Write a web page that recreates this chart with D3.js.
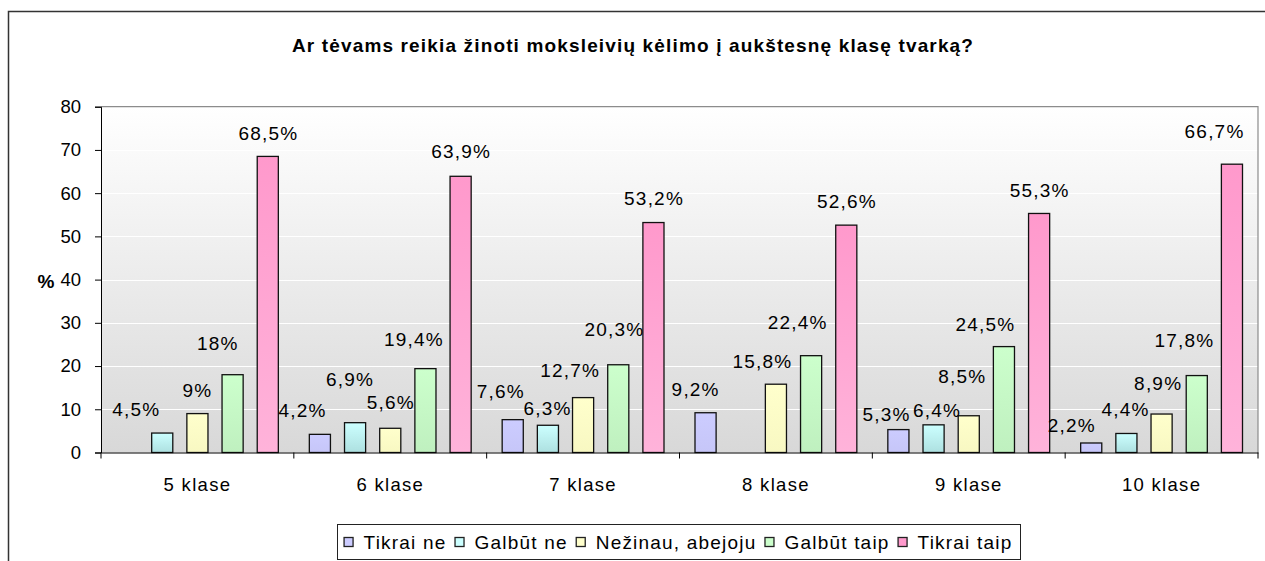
<!DOCTYPE html>
<html><head><meta charset="utf-8">
<script src="https://cdn.jsdelivr.net/npm/d3@7"></script>
<style>
html,body{margin:0;padding:0;background:#fff;}
svg{display:block;font-family:"Liberation Sans",Arial,sans-serif;}
</style></head>
<body>
<svg id="chart" width="1265" height="561"></svg>
<script>
// ---- data ----
const title = "Ar tėvams reikia žinoti moksleivių kėlimo į aukštesnę klasę tvarką?";
const categories = ["5 klase", "6 klase", "7 klase", "8 klase", "9 klase", "10 klase"];
const seriesNames = ["Tikrai ne", "Galbūt ne", "Nežinau, abejoju", "Galbūt taip", "Tikrai taip"];
const tikraiNe   = [null, 4.2, 7.6, 9.2, 5.3, 2.2];
const galbutNe   = [4.5, 6.9, 6.3, null, 6.4, 4.4];
const nezinau    = [9, 5.6, 12.7, 15.8, 8.5, 8.9];
const galbutTaip = [18, 19.4, 20.3, 22.4, 24.5, 17.8];
const tikraiTaip = [68.5, 63.9, 53.2, 52.6, 55.3, 66.7];
const yTicks = [0, 10, 20, 30, 40, 50, 60, 70, 80];

// ---- styling / layout ----
const seriesValues = [tikraiNe, galbutNe, nezinau, galbutTaip, tikraiTaip];
const seriesFill = [
  ["#ccccff", "#c6c6f8"],
  ["#ccffff", "#ade0e0"],
  ["#ffffcc", "#f8f8c2"],
  ["#ccffcc", "#bff0bf"],
  ["#ff99cc", "#ffb3da"]
];
// manual nudges of the value labels (label centre relative to bar top-centre)
const labelNudge = [
  [null, [-18,-24], [-12.5,-28], [-10.5,-24], [-12.5,-15], [-20,-18]],
  [[-26.5,-24], [-5.5,-43], [-1,-17], null, [3,-15], [-1.5,-24]],
  [[-0.5,-23], [0,-26], [-13.5,-27], [-14,-23], [-7,-40], [-4,-31]],
  [[-15.5,-31], [-12,-29], [-4.5,-36], [-14,-33], [-19,-22], [-13,-35]],
  [[0,-23], [0,-25], [0,-24], [0,-24], [0,-23], [-18,-33]]
];

const svg = d3.select("#chart");
const plot = {left: 101, right: 1258, top: 106.7, bottom: 452.5};

const defs = svg.append("defs");
const bg = defs.append("linearGradient").attr("id", "bgGrad")
  .attr("x1", 0).attr("y1", 0).attr("x2", 0).attr("y2", 1);
bg.append("stop").attr("offset", "0%").attr("stop-color", "#ffffff");
bg.append("stop").attr("offset", "100%").attr("stop-color", "#d8d8d8");
seriesFill.forEach((c, i) => {
  const g = defs.append("linearGradient").attr("id", "sg" + i)
    .attr("x1", 0).attr("y1", 0).attr("x2", 0).attr("y2", 1);
  g.append("stop").attr("offset", "0%").attr("stop-color", c[0]);
  g.append("stop").attr("offset", "100%").attr("stop-color", c[1]);
});

// outer frame
svg.append("rect").attr("x", 8.5).attr("y", 11.5).attr("width", 1300).attr("height", 600)
  .attr("fill", "#fff").attr("stroke", "#333").attr("stroke-width", 1.5);

// title
svg.append("text").attr("x", 633).attr("y", 52).attr("text-anchor", "middle")
  .attr("font-size", 19).attr("font-weight", "bold").attr("letter-spacing", 1.15)
  .attr("fill", "#000").text(title);

const x0 = d3.scaleBand().domain(categories).range([plot.left, plot.right]).padding(0);
const bw = x0.bandwidth();
const x1 = d3.scaleBand().domain(seriesNames).range([15.5, bw - 15.5]).paddingInner(0.4).paddingOuter(0);
const y = d3.scaleLinear().domain([0, 80]).range([plot.bottom, plot.top]);

// plot background
svg.append("rect").attr("x", plot.left).attr("y", plot.top)
  .attr("width", plot.right - plot.left).attr("height", plot.bottom - plot.top)
  .attr("fill", "url(#bgGrad)");
// gridlines
svg.append("g").selectAll("line").data(yTicks.filter(t => t > 0 && t < 80)).join("line")
  .attr("x1", plot.left).attr("x2", plot.right)
  .attr("y1", d => Math.round(y(d)) + 0.5).attr("y2", d => Math.round(y(d)) + 0.5)
  .attr("stroke", "#ffffff").attr("stroke-width", 1.2);
// plot border top/right
svg.append("path")
  .attr("d", `M${plot.left},${plot.top}H${plot.right}V${plot.bottom}`)
  .attr("fill", "none").attr("stroke", "#8c8c8c").attr("stroke-width", 1.2);

// bars
const groups = svg.append("g").selectAll("g").data(categories).join("g")
  .attr("transform", d => `translate(${x0(d)},0)`);
seriesNames.forEach((s, si) => {
  groups.each(function(cat, ci) {
    const v = seriesValues[si][ci];
    if (v == null) return;
    d3.select(this).append("rect")
      .attr("x", x1(s)).attr("y", y(v))
      .attr("width", x1.bandwidth()).attr("height", y(0) - y(v))
      .attr("fill", `url(#sg${si})`).attr("stroke", "#111").attr("stroke-width", 1.3);
  });
});

// value labels
const fmt = v => String(v).replace(".", ",") + "%";
seriesNames.forEach((s, si) => {
  groups.each(function(cat, ci) {
    const v = seriesValues[si][ci];
    if (v == null) return;
    const n = labelNudge[si][ci] || [0, -24];
    d3.select(this).append("text")
      .attr("x", x1(s) + x1.bandwidth() / 2 + n[0] + 0.6)
      .attr("y", y(v) + n[1] + 6.8)
      .attr("text-anchor", "middle").attr("font-size", 19).attr("letter-spacing", 1.2)
      .attr("fill", "#000").text(fmt(v));
  });
});

// y axis
const yAxis = d3.axisLeft(y).tickValues(yTicks).tickSize(6).tickPadding(14).tickFormat(d3.format("d"));
const ya = svg.append("g").attr("transform", `translate(${plot.left},0)`).call(yAxis);
ya.select(".domain").attr("stroke", "#000");
ya.selectAll(".tick line").attr("stroke", "#000");
ya.selectAll("text").attr("font-size", 18.5).attr("fill", "#000")
  .attr("font-family", "'Liberation Sans',Arial,sans-serif");

// x axis
const xa = svg.append("g").attr("transform", `translate(0,${plot.bottom})`)
  .call(d3.axisBottom(x0).tickSize(0).tickPadding(25));
xa.select(".domain").attr("stroke", "#000");
xa.selectAll("text").attr("font-size", 18.5).attr("fill", "#000").attr("letter-spacing", 1.3)
  .attr("font-family", "'Liberation Sans',Arial,sans-serif");
// category boundary ticks
xa.append("g").selectAll("line").data(d3.range(categories.length + 1)).join("line")
  .attr("x1", i => plot.left + i * bw).attr("x2", i => plot.left + i * bw)
  .attr("y1", 0).attr("y2", 6).attr("stroke", "#000");

// y axis title
svg.append("text").attr("x", 46).attr("y", 288).attr("text-anchor", "middle")
  .attr("font-size", 19).attr("font-weight", "bold").text("%");

// legend
const lg = svg.append("g");
const lgBox = lg.append("rect").attr("y", 524.5).attr("height", 35)
  .attr("fill", "#fff").attr("stroke", "#222").attr("stroke-width", 1);
let cx = 0;
const items = lg.append("g");
const itemGap = 8;
seriesNames.forEach((s, si) => {
  const it = items.append("g").attr("transform", `translate(${cx},0)`);
  it.append("rect").attr("x", 0.5).attr("y", 537.5).attr("width", 9).attr("height", 9)
    .attr("fill", seriesFill[si][0]).attr("stroke", "#222").attr("stroke-width", 1.3);
  const t = it.append("text").attr("x", 20).attr("y", 549).attr("font-size", 19)
    .attr("letter-spacing", 1.2).attr("fill", "#000").text(s);
  cx += 20 + t.node().getComputedTextLength() + itemGap;
});
const totalW = cx - itemGap;
const startX = 678 - totalW / 2;
items.attr("transform", `translate(${startX},0)`);
lgBox.attr("x", Math.round(startX - 7) + 0.5).attr("width", Math.round(totalW + 14));
</script>
</body></html>
